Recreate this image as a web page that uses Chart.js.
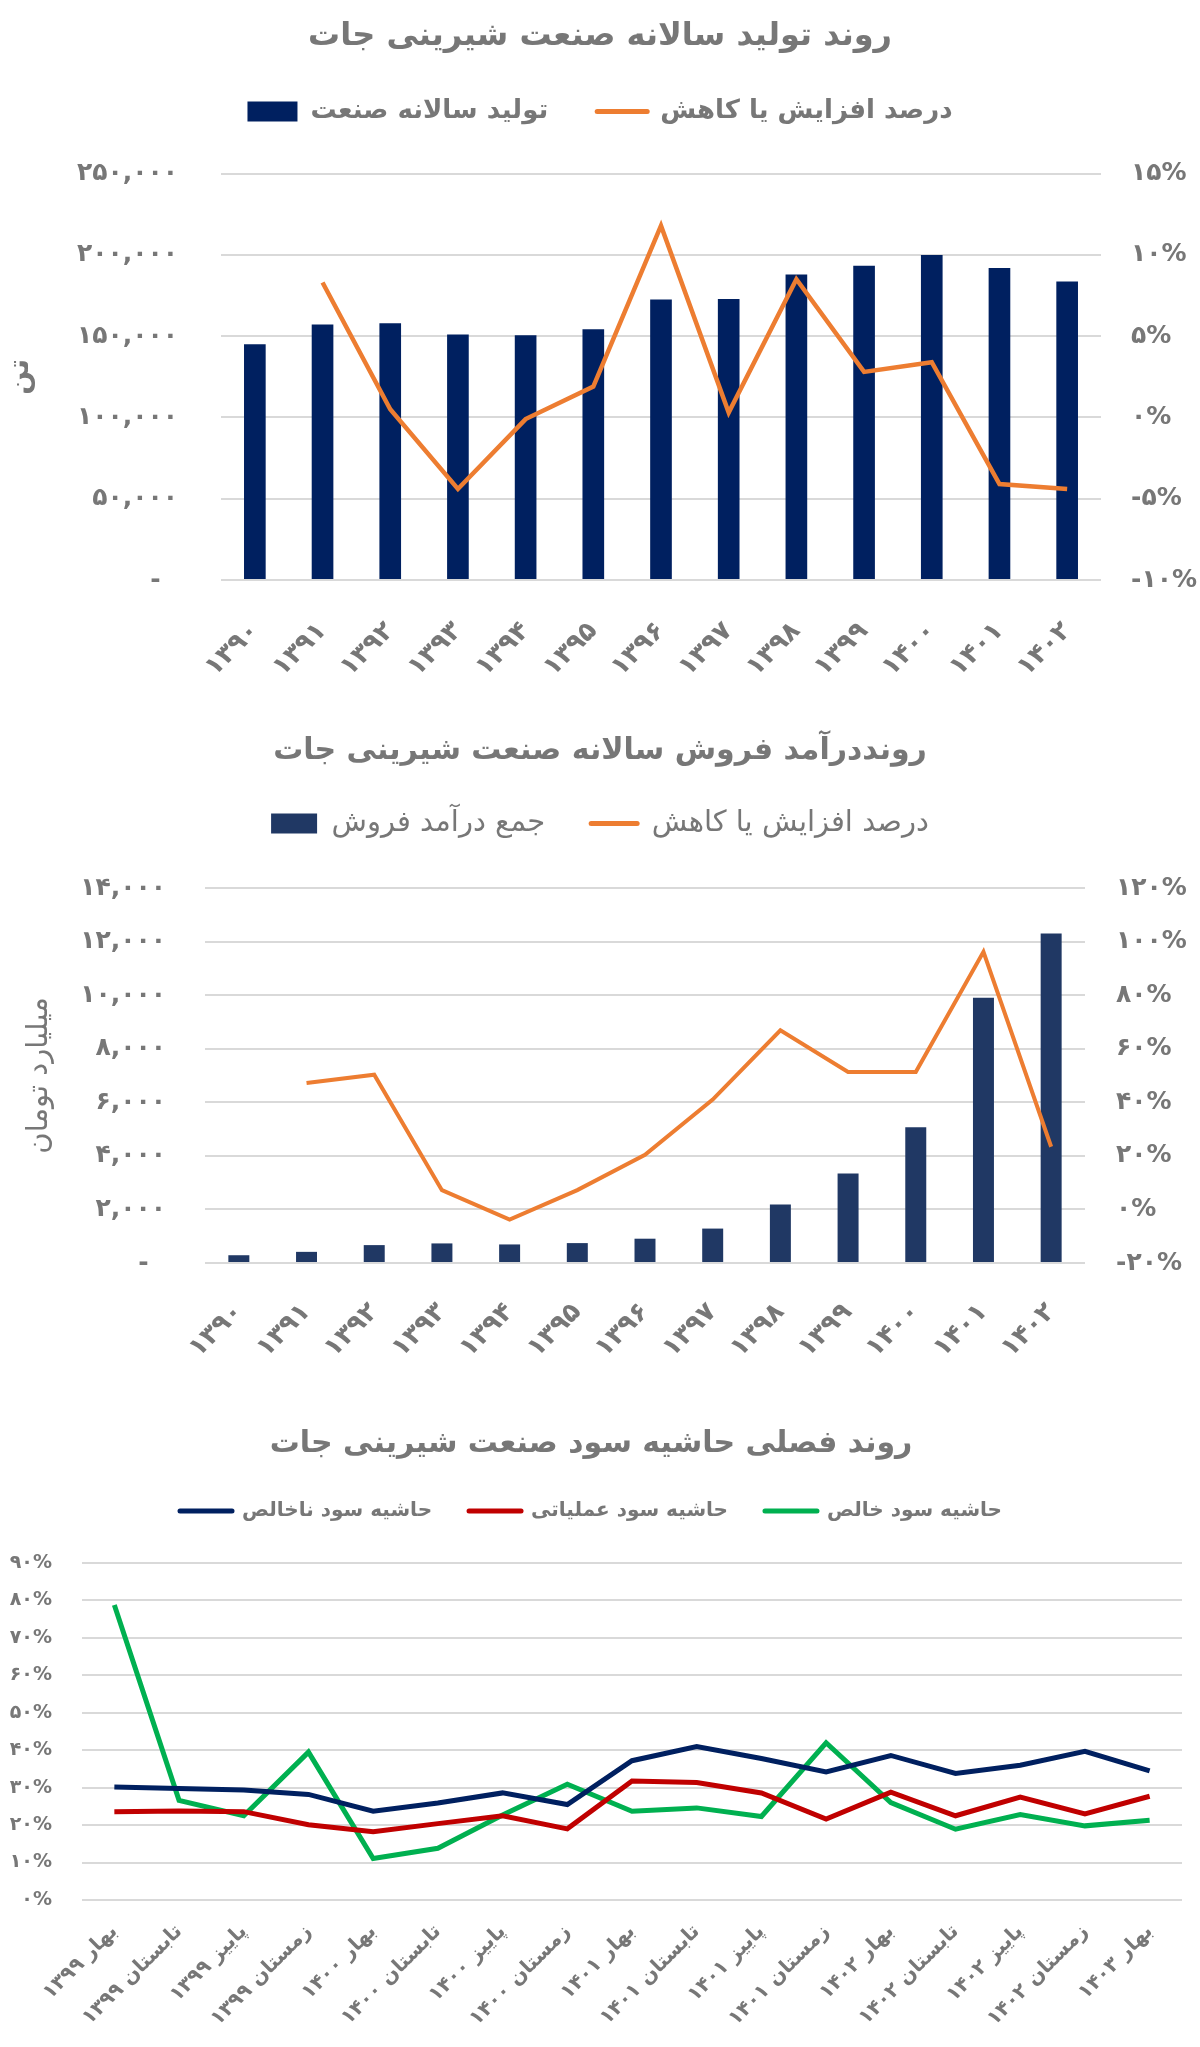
<!DOCTYPE html>
<html><head><meta charset="utf-8">
<script src="https://cdn.jsdelivr.net/npm/chart.js@4.4.1/dist/chart.umd.min.js"></script>
<style>
html,body{margin:0;padding:0;background:#fff;}
body{width:1200px;height:2047px;position:relative;overflow:hidden;}
.box{position:absolute;left:0;width:1200px;}
canvas{display:block;}
</style></head><body>
<div class="box" style="top:0;height:700px"><canvas id="c1" width="1200" height="700"></canvas></div>
<div class="box" style="top:700px;height:680px"><canvas id="c2" width="1200" height="680"></canvas></div>
<div class="box" style="top:1380px;height:667px"><canvas id="c3" width="1200" height="667"></canvas></div>
<script>
// ---------- data ----------
const title1 = 'روند تولید سالانه صنعت شیرینی جات';
const title2 = 'رونددرآمد فروش سالانه صنعت شیرینی جات';
const title3 = 'روند فصلی حاشیه سود صنعت شیرینی جات';

const years = ['۱۳۹۰','۱۳۹۱','۱۳۹۲','۱۳۹۳','۱۳۹۴','۱۳۹۵','۱۳۹۶','۱۳۹۷','۱۳۹۸','۱۳۹۹','۱۴۰۰','۱۴۰۱','۱۴۰۲'];

const production = [145000, 157200, 157900, 151000, 150600, 154200, 172500, 172900, 187900, 193300, 200000, 191900, 183700];
const productionChange = [null, 8.3, 0.5, -4.4, -0.1, 1.9, 11.8, 0.3, 8.5, 2.8, 3.4, -4.1, -4.4];

const revenue = [290, 416, 668, 731, 693, 743, 907, 1285, 2180, 3339, 5065, 9900, 12300];
const revenueChange = [null, 47.2, 50.3, 7.2, -3.8, 7.2, 20.4, 41.0, 66.9, 51.3, 51.3, 96.2, 23.4];

const quarters = ['بهار ۱۳۹۹','تابستان ۱۳۹۹','پاییز ۱۳۹۹','زمستان ۱۳۹۹','بهار ۱۴۰۰','تابستان ۱۴۰۰','پاییز ۱۴۰۰','زمستان ۱۴۰۰','بهار ۱۴۰۱','تابستان ۱۴۰۱','پاییز ۱۴۰۱','زمستان ۱۴۰۱','بهار ۱۴۰۲','تابستان ۱۴۰۲','پاییز ۱۴۰۲','زمستان ۱۴۰۲','بهار ۱۴۰۳'];
const grossMargin     = [30.2, 29.8, 29.4, 28.2, 23.7, 25.9, 28.6, 25.5, 37.2, 41.0, 37.8, 34.2, 38.6, 33.8, 36.0, 39.7, 34.5];
const operatingMargin = [23.6, 23.8, 23.6, 20.1, 18.2, 20.4, 22.5, 19.0, 31.8, 31.4, 28.6, 21.6, 28.8, 22.5, 27.5, 23.0, 27.7];
const netMargin       = [78.8, 26.6, 22.5, 39.5, 11.1, 13.8, 22.7, 30.9, 23.7, 24.6, 22.3, 42.0, 26.0, 18.9, 22.8, 19.8, 21.3];

const leftTicks1  = ['-  ', '۵۰,۰۰۰', '۱۰۰,۰۰۰', '۱۵۰,۰۰۰', '۲۰۰,۰۰۰', '۲۵۰,۰۰۰'];
const rightTicks1 = ['-۱۰%', '-۵%', '۰%', '۵%', '۱۰%', '۱۵%'];
const leftTicks2  = ['-  ', '۲,۰۰۰', '۴,۰۰۰', '۶,۰۰۰', '۸,۰۰۰', '۱۰,۰۰۰', '۱۲,۰۰۰', '۱۴,۰۰۰'];
const rightTicks2 = ['-۲۰%', '۰%', '۲۰%', '۴۰%', '۶۰%', '۸۰%', '۱۰۰%', '۱۲۰%'];
const ticks3      = ['۰%', '۱۰%', '۲۰%', '۳۰%', '۴۰%', '۵۰%', '۶۰%', '۷۰%', '۸۰%', '۹۰%'];

// ---------- style ----------
const FONT = "'DejaVu Sans', sans-serif";
const GRAY = '#777777';
const GRID = '#d9d9d9';
const NAVY1 = '#002060';
const NAVY2 = '#203864';
const ORANGE = '#ED7D31';
const RED = '#C00000';
const GREEN = '#00B050';

function legendGen(chart) {
  return chart.data.datasets.map((ds, i) => ({
    text: ds.label,
    fillStyle: ds.type === 'bar' ? ds.backgroundColor : 'rgba(0,0,0,0)',
    strokeStyle: ds.type === 'bar' ? ds.backgroundColor : ds.borderColor,
    lineWidth: ds.type === 'bar' ? 0 : 5,
    lineCap: 'round',
    pointStyle: ds.type === 'bar' ? 'rect' : 'line',
    fontColor: GRAY,
    hidden: false,
    datasetIndex: i
  }));
}
function f(size, weight) { return {family: FONT, size: size, weight: weight || 'bold'}; }
function tf(size) { return {family: FONT, size: size, weight: 'bold', lineHeight: 0.8}; }

// ---------- chart 1 ----------
new Chart(document.getElementById('c1'), {
  data: {
    labels: years,
    datasets: [
      {type: 'bar', label: 'تولید سالانه صنعت', data: production, backgroundColor: NAVY1,
       xAxisID: 'x', yAxisID: 'y', barPercentage: 0.32, categoryPercentage: 1, order: 2},
      {type: 'line', label: 'درصد افزایش یا کاهش', data: productionChange, borderColor: ORANGE,
       borderWidth: 4.5, pointRadius: 0, tension: 0, xAxisID: 'x', yAxisID: 'y1', order: 1}
    ]
  },
  options: {
    responsive: false, animation: false, devicePixelRatio: 1,
    layout: {padding: 0},
    plugins: {
      title: {display: true, text: title1, color: GRAY, font: tf(32), padding: {top: 24, bottom: 0}},
      legend: {display: true, position: 'top', labels: {usePointStyle: true, pointStyleWidth: 50, boxHeight: 20, padding: 49, color: GRAY, font: f(26), generateLabels: legendGen}},
      tooltip: {enabled: false}
    },
    scales: {
      x: {type: 'category', position: 'bottom', grid: {display: false}, border: {display: false},
          ticks: {color: GRAY, font: f(26), minRotation: 45, maxRotation: 45, padding: 28, autoSkip: false},
          afterFit: s => { s.height = 120; }},
      xTop: {type: 'category', position: 'top', grid: {display: false}, border: {display: false},
          ticks: {display: false}, afterFit: s => { s.height = 39; }},
      y: {position: 'left', min: 0, max: 250000,
          ticks: {stepSize: 50000, color: GRAY, font: f(25), padding: 43, callback: (v, i) => leftTicks1[i]},
          grid: {color: GRID, lineWidth: 2, drawTicks: false}, border: {display: false},
          title: {display: true, text: 'تن', color: GRAY, font: f(28), padding: {top: 4, bottom: 0}},
          afterFit: s => { s.width = 221; }},
      y1: {position: 'right', min: -10, max: 15,
          ticks: {stepSize: 5, color: GRAY, font: f(25), padding: 30, callback: (v, i) => rightTicks1[i]},
          grid: {display: false, drawTicks: false}, border: {display: false},
          afterFit: s => { s.width = 99; }}
    }
  }
});

// ---------- chart 2 ----------
new Chart(document.getElementById('c2'), {
  data: {
    labels: years,
    datasets: [
      {type: 'bar', label: 'جمع درآمد فروش', data: revenue, backgroundColor: NAVY2,
       xAxisID: 'x', yAxisID: 'y', barPercentage: 0.31, categoryPercentage: 1, order: 2},
      {type: 'line', label: 'درصد افزایش یا کاهش', data: revenueChange, borderColor: ORANGE,
       borderWidth: 4, pointRadius: 0, tension: 0, xAxisID: 'x', yAxisID: 'y1', order: 1}
    ]
  },
  options: {
    responsive: false, animation: false, devicePixelRatio: 1,
    layout: {padding: 0},
    plugins: {
      title: {display: true, text: title2, color: GRAY, font: tf(30), padding: {top: 39, bottom: 0}},
      legend: {display: true, position: 'top', labels: {usePointStyle: true, pointStyleWidth: 46, boxHeight: 20, padding: 46, color: GRAY, font: f(29, 'normal'), generateLabels: legendGen}},
      tooltip: {enabled: false}
    },
    scales: {
      x: {type: 'category', position: 'bottom', grid: {display: false}, border: {display: false},
          ticks: {color: GRAY, font: f(26), minRotation: 45, maxRotation: 45, padding: 26, autoSkip: false},
          afterFit: s => { s.height = 117; }},
      xTop: {type: 'category', position: 'top', grid: {display: false}, border: {display: false},
          ticks: {display: false}, afterFit: s => { s.height = 40; }},
      y: {position: 'left', min: 0, max: 14000,
          ticks: {stepSize: 2000, color: GRAY, font: f(25), padding: 39, callback: (v, i) => leftTicks2[i]},
          grid: {color: GRID, lineWidth: 2, drawTicks: false}, border: {display: false},
          title: {display: true, text: 'میلیارد تومان', color: GRAY, font: f(29, 'normal'), padding: {top: 22, bottom: 0}},
          afterFit: s => { s.width = 205; }},
      y1: {position: 'right', min: -20, max: 120,
          ticks: {stepSize: 20, color: GRAY, font: f(25), padding: 31, callback: (v, i) => rightTicks2[i]},
          grid: {display: false, drawTicks: false}, border: {display: false},
          afterFit: s => { s.width = 115; }}
    }
  }
});

// ---------- chart 3 ----------
new Chart(document.getElementById('c3'), {
  type: 'line',
  data: {
    labels: quarters,
    datasets: [
      {type: 'line', label: 'حاشیه سود ناخالص', data: grossMargin, borderColor: NAVY1, borderWidth: 5, pointRadius: 0, tension: 0, xAxisID: 'x', yAxisID: 'y'},
      {type: 'line', label: 'حاشیه سود عملیاتی', data: operatingMargin, borderColor: RED, borderWidth: 5, pointRadius: 0, tension: 0, xAxisID: 'x', yAxisID: 'y'},
      {type: 'line', label: 'حاشیه سود خالص', data: netMargin, borderColor: GREEN, borderWidth: 5, pointRadius: 0, tension: 0, xAxisID: 'x', yAxisID: 'y'}
    ]
  },
  options: {
    responsive: false, animation: false, devicePixelRatio: 1,
    layout: {padding: {right: 18}},
    plugins: {
      title: {display: true, text: title3, color: GRAY, font: tf(30), padding: {top: 52, bottom: 8}},
      legend: {display: true, position: 'top', labels: {usePointStyle: true, pointStyleWidth: 52, boxHeight: 20, padding: 37, color: GRAY, font: f(20), generateLabels: legendGen}},
      tooltip: {enabled: false}
    },
    scales: {
      x: {type: 'category', position: 'bottom', offset: true, grid: {display: false}, border: {display: false},
          ticks: {color: GRAY, font: f(20), minRotation: 45, maxRotation: 45, padding: 12, autoSkip: false},
          afterFit: s => { s.height = 147; }},
      xTop: {type: 'category', position: 'top', grid: {display: false}, border: {display: false},
          ticks: {display: false}, afterFit: s => { s.height = 32; }},
      y: {position: 'left', min: 0, max: 90,
          ticks: {stepSize: 10, color: GRAY, font: f(19), padding: 30, callback: (v, i) => ticks3[i]},
          grid: {color: GRID, lineWidth: 2, drawTicks: false}, border: {display: false},
          afterFit: s => { s.width = 82; }}
    }
  }
});
</script>
</body></html>
